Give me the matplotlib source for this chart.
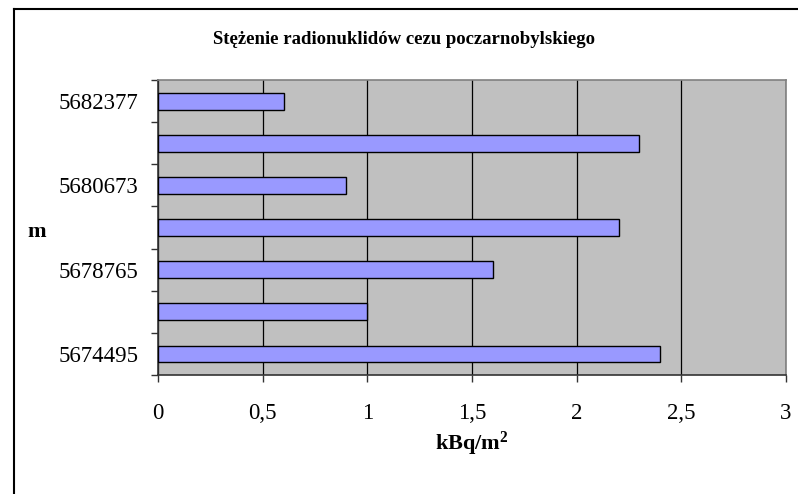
import numpy as np
import matplotlib
matplotlib.use("Agg")
import matplotlib.pyplot as plt
from matplotlib.lines import Line2D

# data (bottom to top)
categories = ["5674495", "", "5678765", "", "5680673", "", "5682377"]
values = [2.4, 1.0, 1.6, 2.2, 0.9, 2.3, 0.6]
xticks = [0, 0.5, 1, 1.5, 2, 2.5, 3]
xticklabels = ["0", "0,5", "1", "1,5", "2", "2,5", "3"]

plt.rcParams['font.family'] = ['Liberation Serif', 'DejaVu Serif']
plt.rcParams['mathtext.fontset'] = 'custom'
plt.rcParams['mathtext.rm'] = 'Liberation Serif'
plt.rcParams['mathtext.bf'] = 'Liberation Serif:bold'

fig = plt.figure(figsize=(7.98, 4.94), dpi=100)
ax = fig.add_axes([158/798, 1 - 375/494, (786 - 158)/798, (375 - 80)/494])

pos = np.arange(len(values))
ax.set_facecolor("#C0C0C0")
ax.barh(pos, values, height=0.4, color="#9999FF", edgecolor="black",
        linewidth=1.0, zorder=3)

# vertical gridlines
ax.set_xlim(0, 3)
ax.set_ylim(-0.5, len(values) - 0.5)
ax.set_xticks(xticks)
ax.set_xticklabels(xticklabels, fontsize=16.5)
ax.xaxis.grid(True, color="black", linewidth=0.9, zorder=1)
ax.set_axisbelow(True)

# category labels at centres, tick marks at boundaries
ax.set_yticks(pos)
ax.set_yticklabels(categories, fontsize=16.5)
ax.tick_params(axis="y", which="major", length=0, pad=14)
ax.set_yticks(np.arange(len(values) + 1) - 0.5, minor=True)
ax.tick_params(axis="y", which="minor", length=5, width=1, color="#333333")
ax.tick_params(axis="x", which="major", length=5, width=1, pad=15,
               color="#333333")

for s in ["top", "right"]:
    ax.spines[s].set_color("#808080")
    ax.spines[s].set_linewidth(1.2)
for s in ["left", "bottom"]:
    ax.spines[s].set_color("#333333")
    ax.spines[s].set_linewidth(1.2)

ax.set_xlabel("$\\mathbf{kBq/m^2}$", fontsize=16, labelpad=4)
fig.text(37/798, 1 - 232/494, "m", fontsize=16, fontweight="bold",
         ha="center", va="center")
fig.text(404/798, 1 - 40/494, "Stężenie radionuklidów cezu poczarnobylskiego",
         fontsize=13.5, fontweight="bold", ha="center", va="center")

# outer chart border (left and top edges visible)
fig.add_artist(Line2D([14/798, 14/798], [0, 1 - 9/494], color="black",
                      linewidth=1.5, transform=fig.transFigure))
fig.add_artist(Line2D([14/798, 1], [1 - 9/494, 1 - 9/494], color="black",
                      linewidth=1.5, transform=fig.transFigure))

fig.savefig("out.png", dpi=100)
